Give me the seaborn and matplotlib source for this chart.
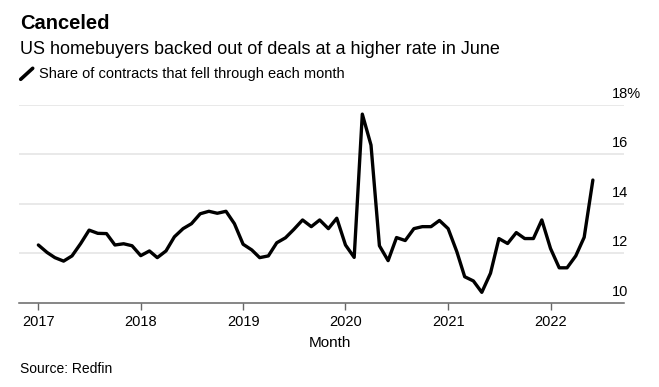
import matplotlib
matplotlib.use("Agg")
import matplotlib.dates as mdates
import matplotlib.pyplot as plt
import matplotlib.transforms as mtransforms
import pandas as pd
import seaborn as sns
from matplotlib.lines import Line2D

# share of contracts that fell through, Jan 2017 - Jun 2022 (%)
share = [
    12.34, 12.04, 11.83, 11.69, 11.90, 12.40, 12.94, 12.81, 12.80, 12.34, 12.39, 12.31,
    11.91, 12.10, 11.83, 12.10, 12.67, 13.00, 13.20, 13.60, 13.70, 13.62, 13.70, 13.20,
    12.37, 12.14, 11.83, 11.90, 12.43, 12.63, 12.97, 13.35, 13.08, 13.35, 13.00, 13.42,
    12.34, 11.84, 17.62, 16.37, 12.31, 11.71, 12.64, 12.52, 13.00, 13.08, 13.08, 13.33,
    13.00, 12.07, 11.06, 10.89, 10.43, 11.20, 12.60, 12.40, 12.84, 12.60, 12.60, 13.35,
    12.20, 11.42, 11.42, 11.90, 12.65, 14.96,
]
months = pd.date_range("2017-01-01", periods=len(share), freq="MS")
year_ticks = pd.to_datetime(["2017-01-01", "2018-01-01", "2019-01-01",
                             "2020-01-01", "2021-01-01", "2022-01-01"])
year_labels = ["2017", "2018", "2019", "2020", "2021", "2022"]
y_ticks = [10, 12, 14, 16, 18]
y_labels = ["10", "12", "14", "16", "18%"]

df = pd.DataFrame({"Month": months, "share": share})

sns.set_theme(style="white")
plt.rcParams["font.family"] = ["Liberation Sans", "DejaVu Sans"]
plt.rcParams["text.color"] = "black"
plt.rcParams["axes.labelcolor"] = "black"
plt.rcParams["xtick.color"] = "black"

W, H = 659, 387
fig = plt.figure(figsize=(W / 100, H / 100), dpi=100)
ax = fig.add_axes([19 / W, 1 - 303 / H, 605 / W, (303 - 104.7) / H])

for y in y_ticks[1:]:
    ax.axhline(y, color="#e3e3e3", lw=1.1, zorder=0)

sns.lineplot(data=df, x="Month", y="share", ax=ax, color="black", lw=2.4, zorder=3)

ax.set_ylim(10, 18)
ax.set_xlim(pd.Timestamp("2016-10-24"), pd.Timestamp("2022-09-20"))
ax.set_yticks([])
ax.set_ylabel("")
ax.set_xticks(year_ticks)
ax.set_xticklabels(year_labels, fontsize=10.5, color="black")
ax.tick_params(axis="x", length=5, width=1, color="#666666", pad=4, bottom=True)
ax.set_xlabel("Month", fontsize=11, color="black")
ax.xaxis.set_label_coords((330 - 19) / 605, -0.165)

for s in ["left", "right", "top"]:
    ax.spines[s].set_visible(False)
ax.spines["bottom"].set_color("#666666")
ax.spines["bottom"].set_linewidth(1.1)

# value labels sit above the gridlines on the right
lab_tr = mtransforms.blended_transform_factory(ax.transAxes, ax.transData) + \
    mtransforms.ScaledTranslation(0, 4 / 100, fig.dpi_scale_trans)
for y, lab in zip(y_ticks, y_labels):
    ax.text((612 - 19) / 605, y, lab, transform=lab_tr, ha="left", va="bottom",
            fontsize=10.5, color="black")

fig.text(20 / W, 1 - 29.3 / H, "Canceled", fontsize=14.5, fontweight="bold",
         va="baseline", ha="left", color="black")
fig.text(20 / W, 1 - 54 / H, "US homebuyers backed out of deals at a higher rate in June",
         fontsize=13, va="baseline", ha="left", color="black")
fig.add_artist(Line2D([20.7 / W, 32.7 / W], [1 - 79.3 / H, 1 - 68.3 / H],
                      color="black", lw=2.6, transform=fig.transFigure))
fig.text(39.3 / W, 1 - 78.3 / H, "Share of contracts that fell through each month",
         fontsize=10.5, va="baseline", ha="left", color="black")
fig.text(20 / W, 1 - 373 / H, "Source: Redfin", fontsize=10, va="baseline", ha="left",
         color="black")

fig.savefig("out.png", dpi=100)
